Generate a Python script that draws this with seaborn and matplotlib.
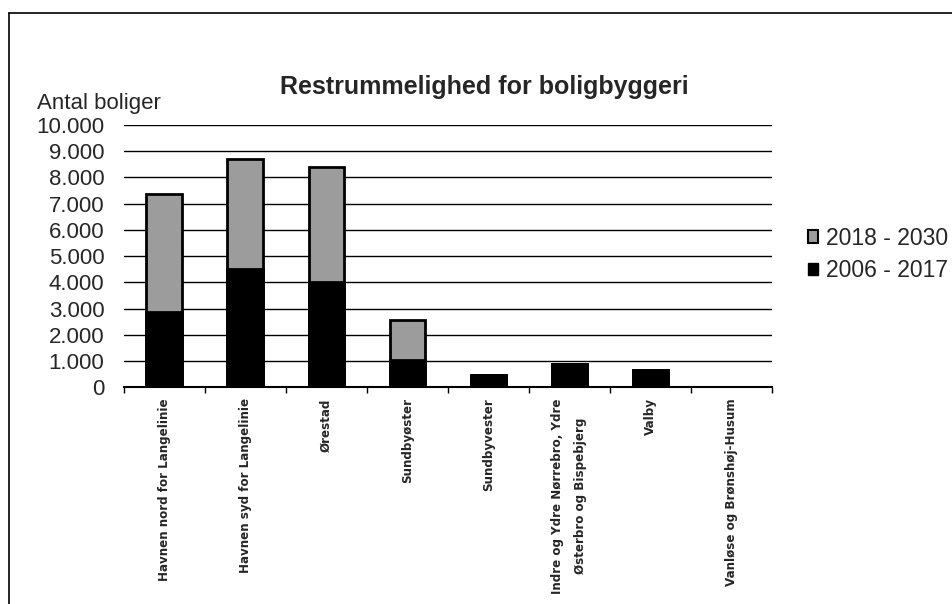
import numpy as np
import pandas as pd
import seaborn as sns
import matplotlib.pyplot as plt
from matplotlib.lines import Line2D
from matplotlib.patches import Patch

# data
omraader = [
    "Havnen nord for Langelinie",
    "Havnen syd for Langelinie",
    "Ørestad",
    "Sundbyøster",
    "Sundbyvester",
    "Indre og Ydre Nørrebro, Ydre\nØsterbro og Bispebjerg",
    "Valby",
    "Vanløse og Brønshøj-Husum",
]
boliger_2006_2017 = [2850, 4500, 4000, 1050, 480, 870, 640, 0]
boliger_2018_2030 = [4500, 4220, 4400, 1500, 0, 0, 0, 0]
serier = ["2018 - 2030", "2006 - 2017"]
y_ticks = [0, 1000, 2000, 3000, 4000, 5000, 6000, 7000, 8000, 9000, 10000]
y_labels = ["0", "1.000", "2.000", "3.000", "4.000", "5.000",
            "6.000", "7.000", "8.000", "9.000", "10.000"]

df = pd.DataFrame({"omraade": omraader,
                   "p1": boliger_2006_2017,
                   "p2": boliger_2018_2030})
df["total"] = df["p1"] + df["p2"]

sns.set_theme(style="white")
plt.rcParams['font.family'] = ['Liberation Sans', 'DejaVu Sans']

graa = "#9c9c9c"

fig = plt.figure(figsize=(9.52, 6.04), dpi=100)
ax = fig.add_axes([0.130, 0.359, 0.681, 0.434])

# stablede søjler: total i grå, første periode i sort ovenpå
sns.barplot(data=df, x="omraade", y="total", color=graa, width=0.44,
            edgecolor="black", linewidth=2, saturation=1, errorbar=None, ax=ax)
sns.barplot(data=df, x="omraade", y="p1", color="black", width=0.44,
            edgecolor="black", linewidth=2, saturation=1, errorbar=None, ax=ax)

ax.set_ylim(0, 10000)
ax.set_xlim(-0.5, len(omraader) - 0.5)
ax.set_yticks(y_ticks)
ax.set_yticklabels(y_labels, fontsize=16)
ax.yaxis.grid(True, color="black", linewidth=1)
ax.set_axisbelow(True)
ax.set_xlabel("")
ax.set_ylabel("")

ax.set_xticks(range(len(omraader)))
ax.set_xticklabels(omraader, rotation=90, fontsize=8.6, fontweight="bold",
                   family=["DejaVu Sans"], ha="center", va="top",
                   multialignment="center", linespacing=2.0)
ax.set_xticks(np.arange(-0.5, len(omraader), 1), minor=True)
ax.tick_params(axis="x", which="major", length=0, pad=8)
ax.tick_params(axis="x", which="minor", bottom=True, length=4, width=1,
               color="black", direction="out")
ax.tick_params(axis="y", length=0, pad=14)

for s in ["left", "top", "right"]:
    ax.spines[s].set_visible(False)
ax.spines["bottom"].set_color("black")
ax.spines["bottom"].set_linewidth(1.5)

fig.text(0.509, 0.856, "Restrummelighed for boligbyggeri", fontsize=18,
         fontweight="bold", ha="center", va="center")
fig.text(0.039, 0.828, "Antal boliger", fontsize=16, ha="left", va="center")

handles = [Patch(facecolor=graa, edgecolor="black", linewidth=1.5),
           Patch(facecolor="black", edgecolor="black")]
fig.legend(handles, serier, loc="center left", bbox_to_anchor=(0.839, 0.579),
           frameon=False, fontsize=16.5, handlelength=0.45, handleheight=0.45,
           handletextpad=0.35, labelspacing=0.4, borderaxespad=0)

# ramme om diagrammet
fig.add_artist(Line2D([0.0095, 1.0], [0.9785, 0.9785], color="black",
                      linewidth=1.2, transform=fig.transFigure))
fig.add_artist(Line2D([0.0095, 0.0095], [0.0, 0.9785], color="black",
                      linewidth=1.2, transform=fig.transFigure))

fig.savefig("out.png", dpi=100)
